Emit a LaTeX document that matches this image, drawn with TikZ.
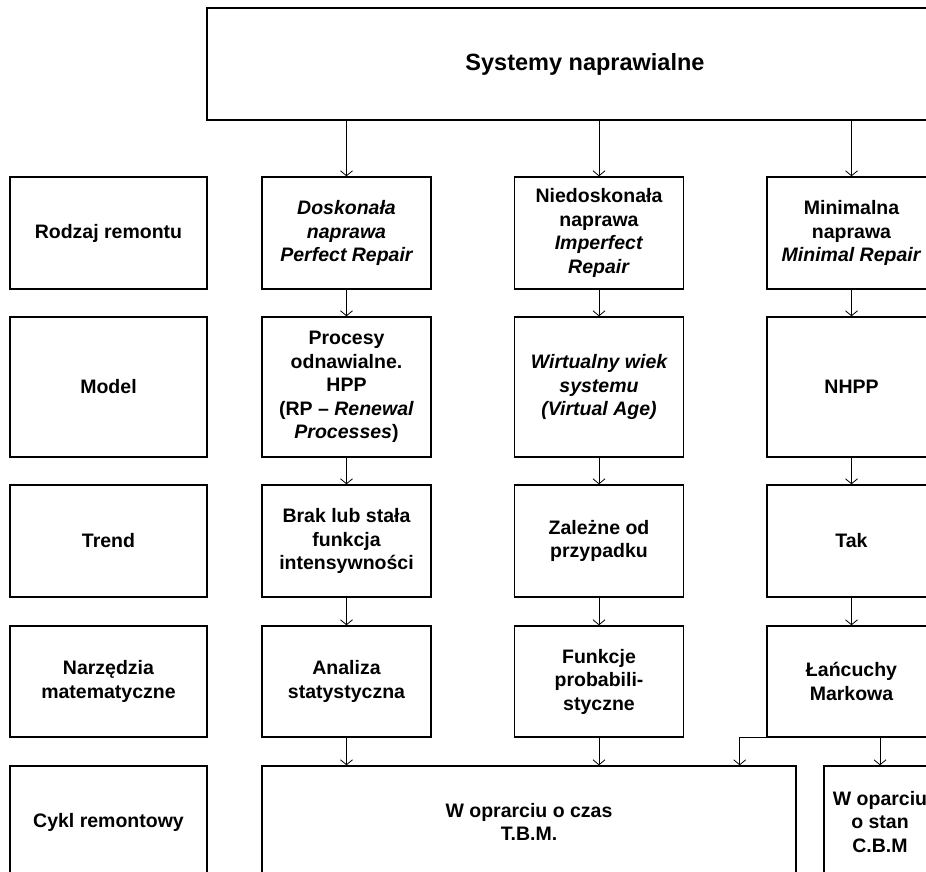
\documentclass[tikz,border=0pt]{standalone}
\usepackage{fontspec}
\setmainfont{Liberation Sans}
\usetikzlibrary{arrows.meta}

\tikzset{
  cell/.style={draw, line width=1.4pt, align=center, inner sep=0pt,
    font=\bfseries\fontsize{19.5}{23.5}\selectfont,
    minimum width=169pt, minimum height=112pt},
  head/.style={cell, minimum width=197pt},
  link/.style={-{Straight Barb[length=5pt,width=12pt]}, line width=0.8pt}
}

\begin{document}
\begin{tikzpicture}[x=1pt, y=-1pt]
  \useasboundingbox (0,0) rectangle (926,872);
  \clip (0,0) rectangle (926,872);

  \node[cell, minimum width=756pt, font=\bfseries\fontsize{23.5}{28}\selectfont] (top) at (585,64) {Systemy naprawialne};

  % row heads
  \node[head] (h1) at (108.5,233) {Rodzaj remontu};
  \node[head, minimum height=140pt] (h2) at (108.5,387) {Model};
  \node[head] (h3) at (108.5,541) {Trend};
  \node[head, minimum height=111pt] (h4) at (108.5,681.5) {Narzędzia\\matematyczne};
  \node[head] (h5) at (108.5,822) {Cykl remontowy};

  % rodzaj remontu
  \node[cell] (n11) at (346.5,233) {\itshape Doskonała\\\itshape naprawa\\\itshape Perfect Repair};
  \node[cell] (n12) at (599,233) {Niedoskonała\\naprawa\\\textit{Imperfect}\\\textit{Repair}};
  \node[cell] (n13) at (851.5,233) {Minimalna\\naprawa\\\textit{Minimal Repair}};

  % model
  \node[cell, minimum height=140pt] (n21) at (346.5,387) {Procesy\\odnawialne.\\HPP\\(RP -- \textit{Renewal}\\\textit{Processes})};
  \node[cell, minimum height=140pt] (n22) at (599,387) {\itshape Wirtualny wiek\\\itshape systemu\\\itshape (Virtual Age)};
  \node[cell, minimum height=140pt] (n23) at (851.5,387) {NHPP};

  % trend
  \node[cell] (n31) at (346.5,541) {Brak lub stała\\funkcja\\intensywności};
  \node[cell] (n32) at (599,541) {Zależne od\\przypadku};
  \node[cell] (n33) at (851.5,541) {Tak};

  % narzedzia
  \node[cell, minimum height=111pt] (n41) at (346.5,681.5) {Analiza\\statystyczna};
  \node[cell, minimum height=111pt] (n42) at (599,681.5) {Funkcje\\probabili-\\styczne};
  \node[cell, minimum height=111pt] (n43) at (851.5,681.5) {Łańcuchy\\Markowa};

  % cykl remontowy
  \node[cell, minimum width=534pt] (tbm) at (529,822) {W oprarciu o czas\\T.B.M.};
  \node[cell, minimum width=112pt] (cbm) at (880,822) {W oparciu\\o stan\\C.B.M};

  \foreach \col in {1,2,3} {
    \draw[link] (top.south -| n1\col) -- (n1\col);
    \foreach \row [count=\nxt from 2] in {1,2,3}
      \draw[link] (n\row\col) -- (n\nxt\col);
  }

  \draw[link] (n41) -- (n41 |- tbm.north);
  \draw[link] (n42) -- (n42 |- tbm.north);
  \draw[link] (n43.south west) -| ([xshift=-57pt]tbm.north east);
  \draw[link] (n43.south -| cbm) -- (cbm);
\end{tikzpicture}
\end{document}
